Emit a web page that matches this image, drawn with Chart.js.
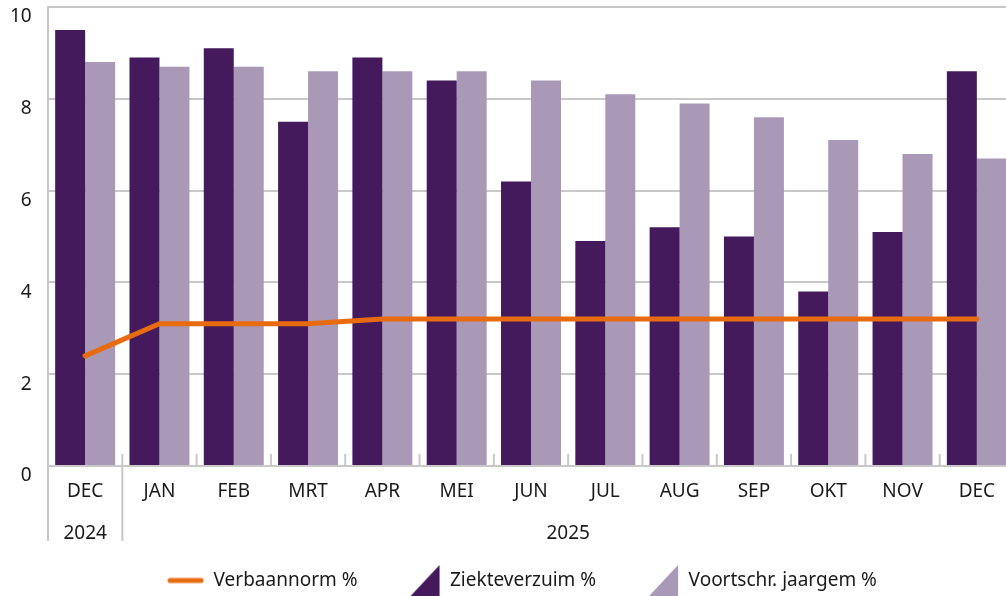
<!DOCTYPE html>
<html>
<head>
<meta charset="utf-8">
<script src="https://cdn.jsdelivr.net/npm/chart.js@4"></script>
<style>
  html, body { margin: 0; padding: 0; background: #fff; overflow: hidden; }
  #wrap { position: relative; width: 1014px; height: 600px; }
</style>
</head>
<body>
<div id="wrap"><canvas id="chart"></canvas></div>
<script>
// data
const months = ['DEC', 'JAN', 'FEB', 'MRT', 'APR', 'MEI', 'JUN', 'JUL', 'AUG', 'SEP', 'OKT', 'NOV', 'DEC'];
const years = ['2024', '2025', '2025', '2025', '2025', '2025', '2025', '2025', '2025', '2025', '2025', '2025', '2025'];
const verbaannorm = [2.4, 3.1, 3.1, 3.1, 3.2, 3.2, 3.2, 3.2, 3.2, 3.2, 3.2, 3.2, 3.2];
const ziekteverzuim = [9.5, 8.9, 9.1, 7.5, 8.9, 8.4, 6.2, 4.9, 5.2, 5.0, 3.8, 5.1, 8.6];
const jaargem = [8.8, 8.7, 8.7, 8.6, 8.6, 8.6, 8.4, 8.1, 7.9, 7.6, 7.1, 6.8, 6.7];
const yTicks = [0, 2, 4, 6, 8, 10];

const ORANGE = '#e96b10';
const DARK = '#441a5d';
const LIGHT = '#aa98b7';
const GRID = '#c8c8c8';
const TEXT = '#1a1a1a';
const FONT = { family: 'Noto Sans', size: 19 };

// legend markers
function lineMarker(color) {
  const c = document.createElement('canvas');
  c.width = 37; c.height = 8;
  const g = c.getContext('2d');
  g.strokeStyle = color; g.lineWidth = 5; g.lineCap = 'round';
  g.beginPath(); g.moveTo(3, 4); g.lineTo(34, 4); g.stroke();
  return c;
}
function triMarker(color) {
  const c = document.createElement('canvas');
  c.width = 37; c.height = 31;
  const g = c.getContext('2d');
  g.fillStyle = color;
  g.beginPath(); g.moveTo(7, 31); g.lineTo(36, 31); g.lineTo(36, 0); g.closePath(); g.fill();
  return c;
}

// year row, separators and small category ticks under the plot
const yearRow = {
  id: 'yearRow',
  afterDraw(chart) {
    const ctx = chart.ctx, x = chart.scales.x, area = chart.chartArea;
    const half = (x.getPixelForValue(1) - x.getPixelForValue(0)) / 2;
    const rowBottom = area.bottom + 75;
    ctx.save();
    ctx.strokeStyle = GRID;
    ctx.lineWidth = 2;
    for (let i = 0; i <= months.length; i++) {
      const bx = i < months.length ? x.getPixelForValue(i) - half : x.getPixelForValue(i - 1) + half;
      const groupEdge = i === 0 || (i < months.length && years[i] !== years[i - 1]);
      ctx.beginPath();
      ctx.moveTo(bx, area.bottom - 12);
      ctx.lineTo(bx, groupEdge ? rowBottom : area.bottom);
      ctx.stroke();
    }
    ctx.fillStyle = TEXT;
    ctx.font = FONT.size + 'px "' + FONT.family + '"';
    ctx.textAlign = 'center';
    ctx.textBaseline = 'middle';
    let start = 0;
    for (let i = 1; i <= years.length; i++) {
      if (i === years.length || years[i] !== years[start]) {
        const cx = (x.getPixelForValue(start) + x.getPixelForValue(i - 1)) / 2;
        ctx.fillText(years[start], cx, area.bottom + 68);
        start = i;
      }
    }
    ctx.restore();
  }
};

new Chart(document.getElementById('chart'), {
  data: {
    labels: months,
    datasets: [
      { type: 'line', label: 'Verbaannorm %', data: verbaannorm, borderColor: ORANGE, backgroundColor: ORANGE,
        borderWidth: 5, pointRadius: 0, tension: 0, borderCapStyle: 'round' },
      { type: 'bar', label: 'Ziekteverzuim %', data: ziekteverzuim, backgroundColor: DARK,
        categoryPercentage: 0.807, barPercentage: 1 },
      { type: 'bar', label: 'Voortschr. jaargem %', data: jaargem, backgroundColor: LIGHT,
        categoryPercentage: 0.807, barPercentage: 1 }
    ]
  },
  options: {
    responsive: true,
    maintainAspectRatio: false,
    animation: false,
    layout: { padding: { left: 30, top: 7, right: 0, bottom: 0 } },
    scales: {
      x: {
        offset: true,
        grid: { display: false },
        border: { display: true, color: GRID, width: 2 },
        ticks: { color: TEXT, font: FONT, padding: 6, maxRotation: 0, autoSkip: false },
        afterFit(s) { s.height = 59; s.paddingLeft = 0; s.paddingRight = 0; }
      },
      y: {
        min: 0, max: 10,
        afterBuildTicks(s) { s.ticks = yTicks.map(v => ({ value: v })); },
        grid: { color: GRID, lineWidth: 2, drawTicks: false },
        border: { display: true, color: GRID, width: 2 },
        // mirrored so the labels are not clipped to the narrow axis box
        ticks: { color: TEXT, font: FONT, mirror: true, crossAlign: 'far', padding: -38, labelOffset: 10 },
        afterFit(s) { s.width = 18; s.paddingTop = 0; s.paddingBottom = 0; }
      }
    },
    plugins: {
      tooltip: { enabled: false },
      legend: {
        position: 'bottom',
        labels: {
          usePointStyle: true,
          pointStyleWidth: 37,
          padding: 46,
          color: TEXT,
          font: FONT,
          generateLabels() {
            return [
              { text: 'Verbaannorm %', pointStyle: lineMarker(ORANGE), fillStyle: ORANGE, strokeStyle: ORANGE, lineWidth: 0, fontColor: TEXT, datasetIndex: 0 },
              { text: 'Ziekteverzuim %', pointStyle: triMarker(DARK), fillStyle: DARK, strokeStyle: DARK, lineWidth: 0, fontColor: TEXT, datasetIndex: 1 },
              { text: 'Voortschr. jaargem %', pointStyle: triMarker(LIGHT), fillStyle: LIGHT, strokeStyle: LIGHT, lineWidth: 0, fontColor: TEXT, datasetIndex: 2 }
            ];
          }
        }
      }
    }
  },
  plugins: [yearRow]
});
</script>
</body>
</html>
